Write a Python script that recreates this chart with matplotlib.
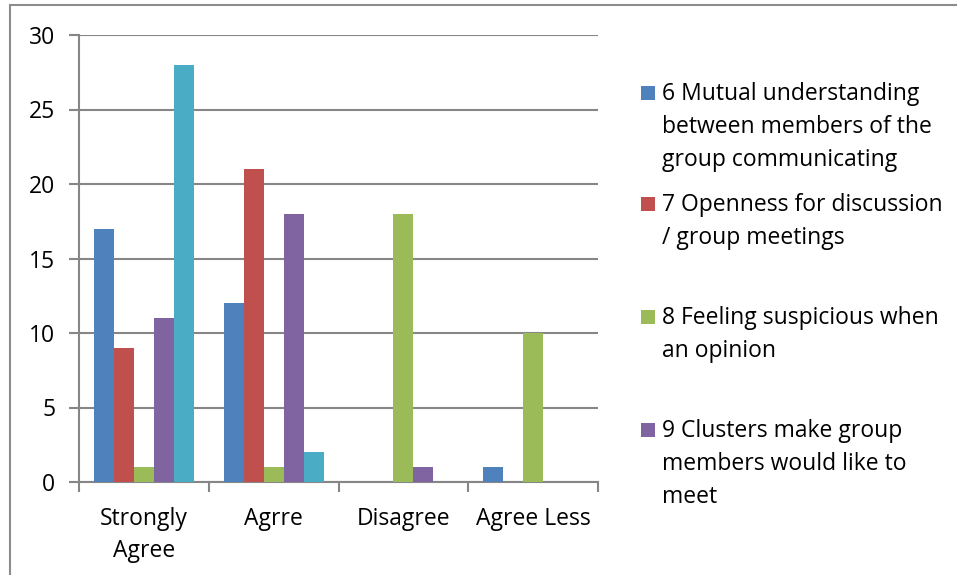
import matplotlib
matplotlib.use("Agg")
import matplotlib.pyplot as plt
import numpy as np
from matplotlib.patches import Rectangle

plt.rcParams['font.family'] = ['Open Sans', 'DejaVu Sans']

categories = ["Strongly\nAgree", "Agrre", "Disagree", "Agree Less"]
series_labels = [
    "6 Mutual understanding\nbetween members of the\ngroup communicating",
    "7 Openness for discussion\n/ group meetings",
    "8 Feeling suspicious when\nan opinion",
    "9 Clusters make group\nmembers would like to\nmeet",
    None,
]
s6 = [17, 12, 0, 1]
s7 = [9, 21, 0, 0]
s8 = [1, 1, 18, 10]
s9 = [11, 18, 1, 0]
s10 = [28, 2, 0, 0]
series = [s6, s7, s8, s9, s10]
colors = ["#4F81BD", "#C0504D", "#9BBB59", "#8064A2", "#4BACC6"]
yticks = [0, 5, 10, 15, 20, 25, 30]

FS = 16.5
W, H = 957, 575
fig = plt.figure(figsize=(W / 100, H / 100), dpi=100)
ax = fig.add_axes([79 / W, 1 - 482 / H, (598 - 79) / W, (482 - 35) / H])

n = len(series)
bw = 1 / (n + 1.5)
x = np.arange(len(categories)) + 0.5
for i, (vals, c) in enumerate(zip(series, colors)):
    off = (i - (n - 1) / 2) * bw
    ax.bar(x + off, vals, width=bw, color=c, zorder=3, linewidth=0)

grid_c = "#868686"
ax.set_xlim(0, len(categories))
ax.set_ylim(0, 30)
ax.set_yticks(yticks)
ax.set_yticklabels([str(v) for v in yticks], fontsize=FS, color="black")
ax.yaxis.grid(True, color=grid_c, linewidth=1.5, zorder=0)
ax.set_xticks(np.arange(len(categories) + 1))
ax.set_xticklabels([])
ax.set_xticks(x, minor=True)
ax.set_xticklabels(categories, minor=True, fontsize=FS, linespacing=1.45)
ax.tick_params(axis='x', which='minor', length=0, pad=18)
ax.tick_params(axis='x', which='major', length=7, width=1.5, color=grid_c, direction='out')
ax.tick_params(axis='y', length=7, width=1.5, color=grid_c, direction='out', pad=10)
for s in ['top', 'right']:
    ax.spines[s].set_visible(False)
for s in ['left', 'bottom']:
    ax.spines[s].set_color(grid_c)
    ax.spines[s].set_linewidth(1.5)
ax.set_facecolor('none')

# legend (manual, handles aligned to first line like the original)
leg_y = [100, 211, 324, 437]
line_h = 33
for lab, c, yb in zip(series_labels[:4], colors[:4], leg_y):
    fig.patches.append(Rectangle((641 / W, 1 - yb / H), 14 / W, 14 / H,
                                 transform=fig.transFigure, color=c, linewidth=0))
    for k, line in enumerate(lab.split("\n")):
        fig.text(662 / W, 1 - (yb + k * line_h) / H, line, fontsize=FS,
                 va='baseline', ha='left', transform=fig.transFigure)

# outer border
fig.patches.append(Rectangle((10 / W, -0.05), 1.1, 1 - 5 / H + 0.05,
                             transform=fig.transFigure, fill=False,
                             edgecolor="#8c8c8c", linewidth=1.5))

fig.savefig("out.png", dpi=100)
